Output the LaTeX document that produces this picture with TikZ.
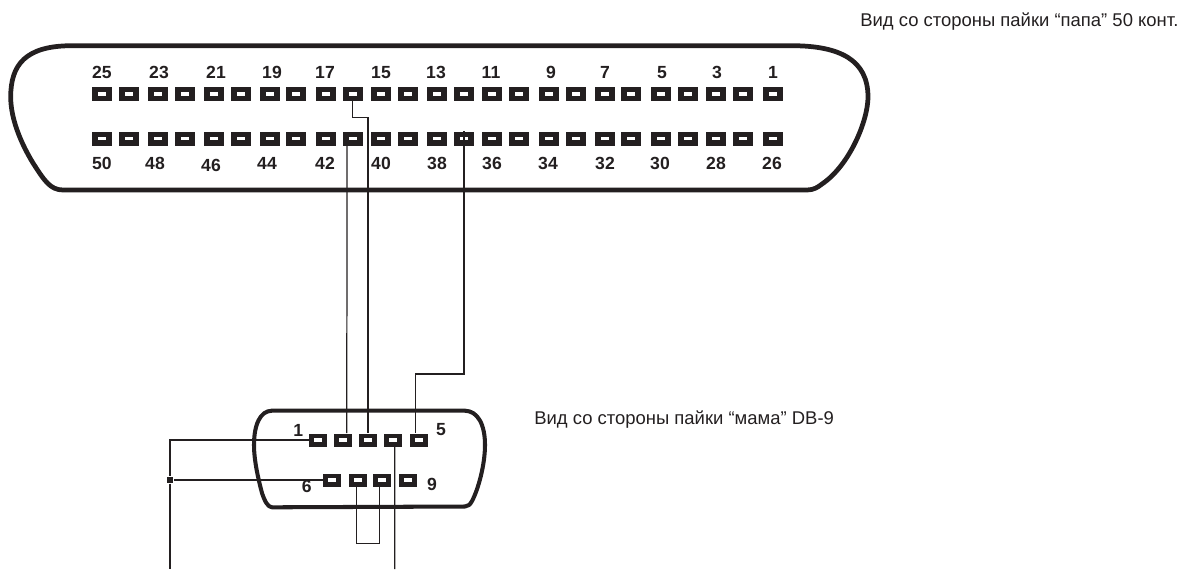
\documentclass[tikz,border=0pt]{standalone}
\usepackage{fontspec}
\setmainfont{Liberation Sans}
\usepackage{xcolor}
\definecolor{inkdark}{HTML}{231F20}
\tikzset{
  connpin/.style={fill=inkdark,inner sep=0pt,minimum width=11.4pt,minimum height=8pt,
    path picture={\fill[white] (path picture bounding box.center) +(-2.3pt,-.9pt) rectangle +(2.3pt,.9pt);}},
  smallpin/.style={connpin,minimum width=10.2pt,minimum height=7.4pt},
  pinlabel/.style={inner sep=0pt,text=inkdark,font=\fontsize{10}{12}\selectfont\bfseries},
  caption/.style={inner sep=0pt,anchor=west,text=inkdark,font=\fontsize{10.5}{12}\selectfont},
  wire/.style={draw=inkdark,line width=0.7pt},
  shell/.style={draw=inkdark,line width=2.7pt,line join=round},
  smallshell/.style={draw=inkdark,line width=2.3pt,line join=round}
}
\begin{document}
\begin{tikzpicture}[x=0.02cm,y=-0.02cm]
    \useasboundingbox (0,0) rectangle (1185,569);
    % captions
    \node[caption] (capA) at (860,21.5) {Вид со стороны пайки “папа” 50 конт.};
    \node[caption] (capB) at (534,420) {Вид со стороны пайки “мама” DB-9};
    % large shell
    \draw[shell] (72,45.7) -- (793,45.7) .. controls (840,46) and (868,60) .. (868,97)
      .. controls (868,120) and (850,165) .. (822,184) .. controls (818,187) and (814,190) .. (807,190)
      -- (63,190) .. controls (50,190) and (44,180) .. (33,163)
      .. controls (22,145) and (10.7,120) .. (10.7,97) .. controls (10.7,65) and (25,45.7) .. (72,45.7) -- cycle;
    % small shell
    \draw[smallshell] (271.7,410.7) -- (465,410.7) .. controls (478,411) and (485,425) .. (485,445)
      .. controls (485,465) and (478,490) .. (472,501) .. controls (470,505) and (468,506) .. (465,506.5)
      -- (272,507.3) .. controls (268,507) and (265,502) .. (262,493)
      .. controls (258,478) and (254,460) .. (254,445) .. controls (254,425) and (260,411) .. (271.7,410.7) -- cycle;
    % top row
    \node[connpin] (T25) at (102.3,94) {};
    \node[connpin] (T24) at (129.3,94) {};
    \node[connpin] (T23) at (158,94) {};
    \node[connpin] (T22) at (185,94) {};
    \node[connpin] (T21) at (214.3,94) {};
    \node[connpin] (T20) at (241.3,94) {};
    \node[connpin] (T19) at (269.7,94) {};
    \node[connpin] (T18) at (296,94) {};
    \node[connpin] (T17) at (326.3,94) {};
    \node[connpin] (T16) at (352.7,94) {};
    \node[connpin] (T15) at (381,94) {};
    \node[connpin] (T14) at (407.7,94) {};
    \node[connpin] (T13) at (437,94) {};
    \node[connpin] (T12) at (464,94) {};
    \node[connpin] (T11) at (492.3,94) {};
    \node[connpin] (T10) at (519.3,94) {};
    \node[connpin] (T9) at (549.3,94) {};
    \node[connpin] (T8) at (576,94) {};
    \node[connpin] (T7) at (604.7,94) {};
    \node[connpin] (T6) at (631.3,94) {};
    \node[connpin] (T5) at (660.7,94) {};
    \node[connpin] (T4) at (687.7,94) {};
    \node[connpin] (T3) at (716.3,94) {};
    \node[connpin] (T2) at (743,94) {};
    \node[connpin] (T1) at (772.7,94) {};
    % bottom row
    \node[connpin] (B50) at (102.3,138.7) {};
    \node[connpin] (B49) at (129.3,138.7) {};
    \node[connpin] (B48) at (158,138.7) {};
    \node[connpin] (B47) at (185,138.7) {};
    \node[connpin] (B46) at (214.3,138.7) {};
    \node[connpin] (B45) at (241.3,138.7) {};
    \node[connpin] (B44) at (269.7,138.7) {};
    \node[connpin] (B43) at (296,138.7) {};
    \node[connpin] (B42) at (326.3,138.7) {};
    \node[connpin] (B41) at (352.7,138.7) {};
    \node[connpin] (B40) at (381,138.7) {};
    \node[connpin] (B39) at (407.7,138.7) {};
    \node[connpin] (B38) at (437,138.7) {};
    \node[connpin] (B37) at (464,138.7) {};
    \node[connpin] (B36) at (492.3,138.7) {};
    \node[connpin] (B35) at (519.3,138.7) {};
    \node[connpin] (B34) at (549.3,138.7) {};
    \node[connpin] (B33) at (576,138.7) {};
    \node[connpin] (B32) at (604.7,138.7) {};
    \node[connpin] (B31) at (631.3,138.7) {};
    \node[connpin] (B30) at (660.7,138.7) {};
    \node[connpin] (B29) at (687.7,138.7) {};
    \node[connpin] (B28) at (716.3,138.7) {};
    \node[connpin] (B27) at (743,138.7) {};
    \node[connpin] (B26) at (772.7,138.7) {};
    % numbers of the large connector
    \node[pinlabel] (N25) at (102,72.7) {25};
    \node[pinlabel] (N23) at (159,72.7) {23};
    \node[pinlabel] (N21) at (216,72.7) {21};
    \node[pinlabel] (N19) at (272,72.7) {19};
    \node[pinlabel] (N17) at (325,72.7) {17};
    \node[pinlabel] (N15) at (381,72.7) {15};
    \node[pinlabel] (N13) at (436,72.7) {13};
    \node[pinlabel] (N11) at (491,72.7) {11};
    \node[pinlabel] (N9) at (551,72.7) {9};
    \node[pinlabel] (N7) at (605,72.7) {7};
    \node[pinlabel] (N5) at (662,72.7) {5};
    \node[pinlabel] (N3) at (717,72.7) {3};
    \node[pinlabel] (N1) at (773,72.7) {1};
    \node[pinlabel] (N50) at (102,163.5) {50};
    \node[pinlabel] (N48) at (155,163.5) {48};
    \node[pinlabel] (N46) at (211,165) {46};
    \node[pinlabel] (N44) at (267,163.5) {44};
    \node[pinlabel] (N42) at (325,163.5) {42};
    \node[pinlabel] (N40) at (381,163.5) {40};
    \node[pinlabel] (N38) at (437,163.5) {38};
    \node[pinlabel] (N36) at (492,163.5) {36};
    \node[pinlabel] (N34) at (548,163.5) {34};
    \node[pinlabel] (N32) at (605,163.5) {32};
    \node[pinlabel] (N30) at (660,163.5) {30};
    \node[pinlabel] (N28) at (716,163.5) {28};
    \node[pinlabel] (N26) at (772,163.5) {26};
    % small connector
    \node[smallpin] (D1) at (318.3,440) {};
    \node[smallpin] (D2) at (342.7,440) {};
    \node[smallpin] (D3) at (368,440) {};
    \node[smallpin] (D4) at (392.7,440) {};
    \node[smallpin] (D5) at (418.7,440) {};
    \node[smallpin] (D6) at (332,480) {};
    \node[smallpin] (D7) at (357.7,480) {};
    \node[smallpin] (D8) at (382,480) {};
    \node[smallpin] (D9) at (408.3,480) {};
    \node[pinlabel] (M1) at (298.3,430) {1};
    \node[pinlabel] (M5) at (441,430) {5};
    \node[pinlabel] (M6) at (306.7,486) {6};
    \node[pinlabel] (M9) at (432,484) {9};
    % junction and free ends
    \node[fill=inkdark,inner sep=0pt,minimum size=3.8pt] (J) at (170,480) {};
    \coordinate (C1) at (170,440);
    \coordinate (E1) at (170,569);
    \coordinate (E2) at (394.7,569);
    \coordinate (W1) at (368,117.7);
    \coordinate (W2) at (440,374);
    \coordinate (U) at (368,543.3);
    % wires
    \draw[wire] (T16.south) |- (W1) -- (D3.north);
    \draw[wire] ([xshift=-3.2pt]B41.south) -- ([xshift=2.3pt]D2.north);
    \draw[wire] (B37.north) |- (W2) -| ([xshift=-1.9pt]D5.north);
    \draw[wire] (D1) -- (C1) -- (J) -- (E1);
    \draw[wire] (D6) -- (J);
    \draw[wire] ([xshift=1.1pt]D4.south) -- (E2);
    \draw[wire] ([xshift=-.8pt]D7.south) |- (U) -| ([xshift=-1.5pt]D8.south);
\end{tikzpicture}
\end{document}
